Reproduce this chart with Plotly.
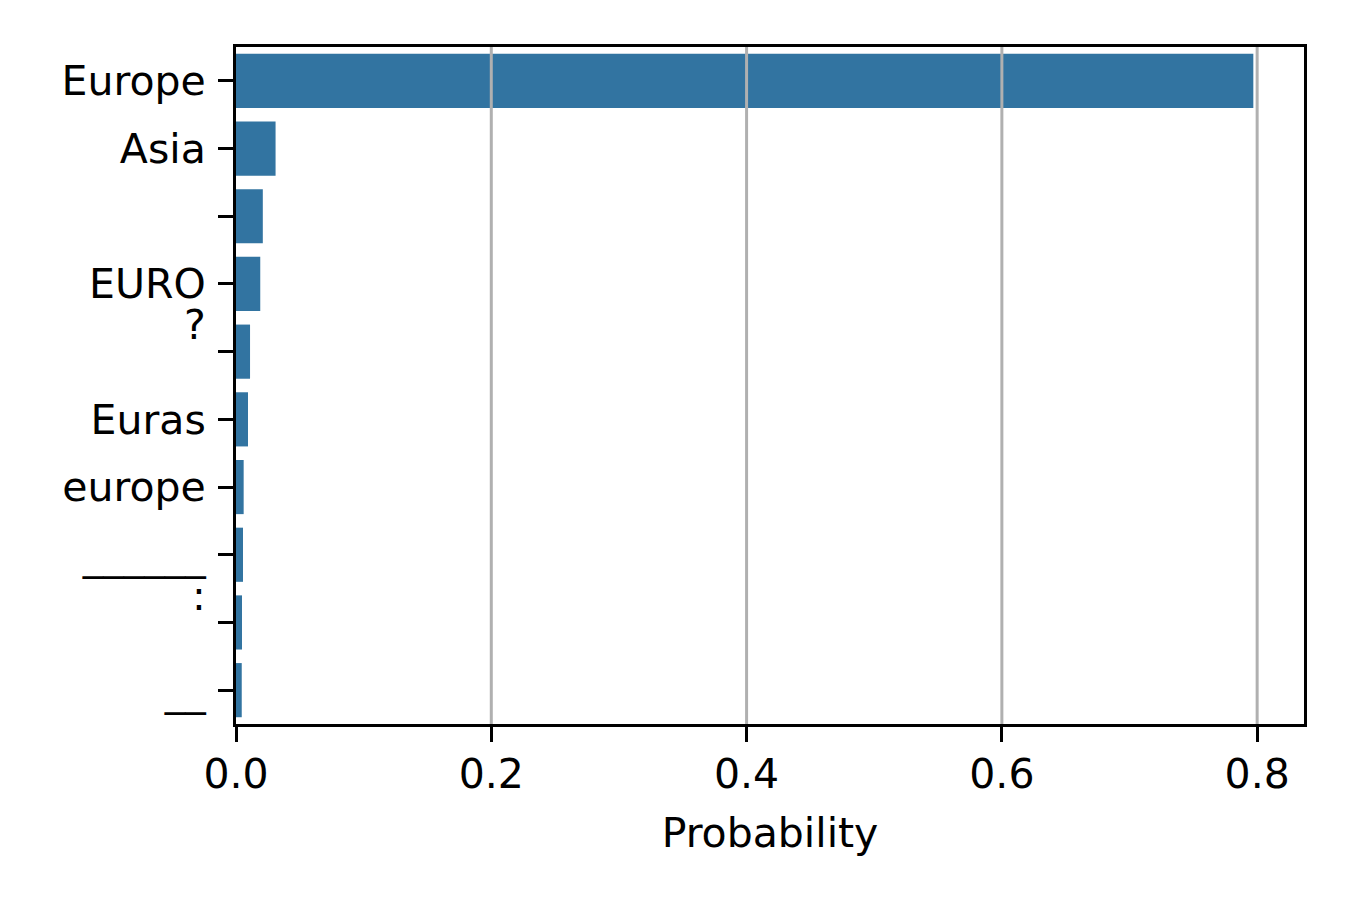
import plotly.graph_objects as go

# predicted continent tokens and their probability
labels = ["Europe", "Asia", " ", "EURO", "?<br> ", "Euras", "europe", "______", ":<br> ", "__"]
probs = [0.797, 0.031, 0.021, 0.019, 0.011, 0.0094, 0.006, 0.0055, 0.0047, 0.0045]
positions = list(range(len(labels)))

xticks = [0.0, 0.2, 0.4, 0.6, 0.8]
xtick_text = ["0.0", "0.2", "0.4", "0.6", "0.8"]

fig = go.Figure(go.Bar(
    x=probs,
    y=positions,
    orientation="h",
    marker=dict(color="#3274a1", line=dict(width=0)),
))

# grid drawn over the bars, like the matplotlib original
for t in xticks[1:]:
    fig.add_shape(type="line", xref="x", yref="paper", x0=t, x1=t, y0=0, y1=1,
                  line=dict(color="#b0b0b0", width=3), layer="above")

# page body has an 8px margin, so shift margins to compensate
fig.update_layout(
    width=1350,
    height=900,
    margin=dict(l=228, r=54, t=39, b=184),
    paper_bgcolor="white",
    plot_bgcolor="white",
    bargap=0.2,
    showlegend=False,
    font=dict(family="DejaVu Sans", size=41, color="black"),
)

fig.update_xaxes(
    range=[0, 0.8367],
    tickvals=xticks,
    ticktext=xtick_text,
    showgrid=False,
    zeroline=False,
    showline=True,
    linecolor="black",
    linewidth=3,
    mirror=True,
    ticks="outside",
    ticklen=15,
    tickwidth=3,
    tickcolor="black",
    ticklabelstandoff=-3,
    title=dict(text="Probability", font=dict(size=41), standoff=22),
)

fig.update_yaxes(
    range=[9.5, -0.5],
    tickvals=positions,
    ticktext=labels,
    showgrid=False,
    zeroline=False,
    showline=True,
    linecolor="black",
    linewidth=3,
    mirror=True,
    ticks="outside",
    ticklen=15,
    tickwidth=3,
    tickcolor="black",
    ticklabelstandoff=4,
)

fig.write_html("out.html")
